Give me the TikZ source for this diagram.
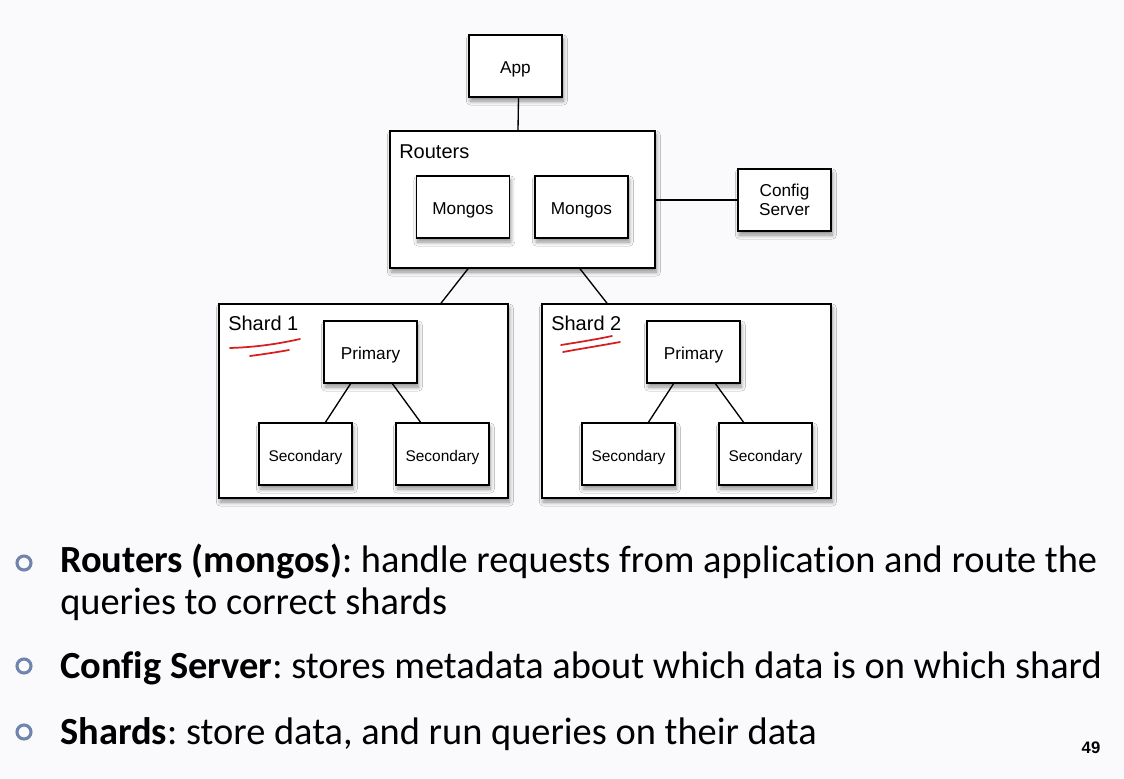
\documentclass[tikz,border=0pt]{standalone}
\usepackage{fontspec}
\setmainfont{Carlito}[Ligatures=NoCommon]
\newfontfamily\diagfont{Liberation Sans}
\usetikzlibrary{shadows,shadows.blur,calc}
\frenchspacing

\definecolor{bgcol}{RGB}{250,250,252}
\definecolor{bulletcol}{RGB}{112,132,172}
\definecolor{inkred}{RGB}{215,30,30}

\tikzset{
	softshadow/.style={blur shadow={shadow xshift=1pt,shadow yshift=-3pt,shadow blur radius=3pt,shadow blur steps=8,shadow opacity=45}},
	boxbase/.style={draw,line width=1.2pt,fill=white,minimum width=69.75pt,minimum height=46.5pt,
		inner sep=0pt,align=center,font=\diagfont\fontsize{12.9}{14.5}\selectfont,softshadow},
	box/.style={boxbase,text height=11.9pt,text depth=0pt},
	secbox/.style={boxbase,text height=10.7pt,text depth=0pt,font=\diagfont\fontsize{11.6}{13}\selectfont},
	bigbox/.style={draw,line width=1.2pt,fill=white,inner sep=0pt,softshadow},
	grouplabel/.style={anchor=base west,inner sep=0pt,font=\diagfont\fontsize{15}{17}\selectfont},
	link/.style={line width=1pt},
	bullet/.style={circle,draw=bulletcol,line width=2.3pt,minimum size=10.5pt,inner sep=0pt},
	bullettext/.style={anchor=base west,inner sep=0pt,font=\fontsize{28.8}{31.5}\selectfont}
}

\begin{document}
\begin{tikzpicture}[x=0.75pt,y=-0.75pt]
	\useasboundingbox[fill=bgcol] (0,0) rectangle (1124,778);

	% top part
	\node[box] (app) at (515.5,66) {App};
	\node[bigbox,minimum width=198.75pt,minimum height=102.75pt] (routers) at (522.5,199.5) {};
	\node[grouplabel] (routerslabel) at (399,158) {Routers};
	\node[box] (mongos1) at (463,207) {Mongos};
	\node[box] (mongos2) at (581.5,207) {Mongos};
	\node[boxbase] (config) at (784.5,200) {Config\\Server};

	% shards
	\foreach \s/\cx in {1/363.5,2/686.5}{
		\node[bigbox,minimum width=216.75pt,minimum height=145.5pt] (shard\s) at (\cx,401) {};
		\node[grouplabel] (shardlabel\s) at (\cx-135.5,330) {Shard \s};
		\node[box] (primary\s) at (\cx+7,352) {Primary};
		\node[secbox] (seca\s) at (\cx-58,454) {Secondary};
		\node[secbox] (secb\s) at (\cx+79,454) {Secondary};
		\draw[link] ($(primary\s.south)+(-20,0)$) -- ($(seca\s.north)+(20,0)$);
		\draw[link] ($(primary\s.south)+(22,0)$) -- ($(secb\s.north)+(-22,0)$);
	}

	\draw[link] ($(app.south)+(3,0)$) -- ($(routers.north)+(-4.5,0)$);
	\draw[link] (routers.east |- config.west) -- (config.west);
	\draw[link] ($(routers.south)+(-54.5,0)$) -- ($(shard1.north)+(77.5,0)$);
	\draw[link] ($(routers.south)+(57.5,0)$) -- ($(shard2.north)+(-79.5,0)$);

	% red pen marks
	\draw[inkred,line width=1.3pt,line cap=round] (230,348) .. controls (260,347) and (282,343) .. (300,339);
	\draw[inkred,line width=1.3pt,line cap=round] (250,356) .. controls (265,354) and (278,352) .. (289,350);
	\draw[inkred,line width=1.3pt,line cap=round] (561,345) .. controls (580,342) and (598,339) .. (612,336);
	\draw[inkred,line width=1.3pt,line cap=round] (563,352) .. controls (585,348) and (604,345) .. (620,342);

	% bullet list
	\node[bullet] (b1) at (24,563) {};
	\node[bullet] (b2) at (24,666) {};
	\node[bullet] (b3) at (24,732) {};
	\node[bullettext] (t1) at (60,572) {\textbf{Routers (mongos)}: handle requests from application and route the};
	\node[bullettext] (t1b) at (60,614) {queries to correct shards};
	\node[bullettext] (t2) at (60,678) {\textbf{Config Server}: stores metadata about which data is on which shard};
	\node[bullettext] (t3) at (60,744) {\textbf{Shards}: store data, and run queries on their data};
	\node[anchor=base,inner sep=0pt,font=\diagfont\bfseries\fontsize{12.5}{14}\selectfont] (pagenum) at (1091,753) {49};
\end{tikzpicture}
\end{document}
